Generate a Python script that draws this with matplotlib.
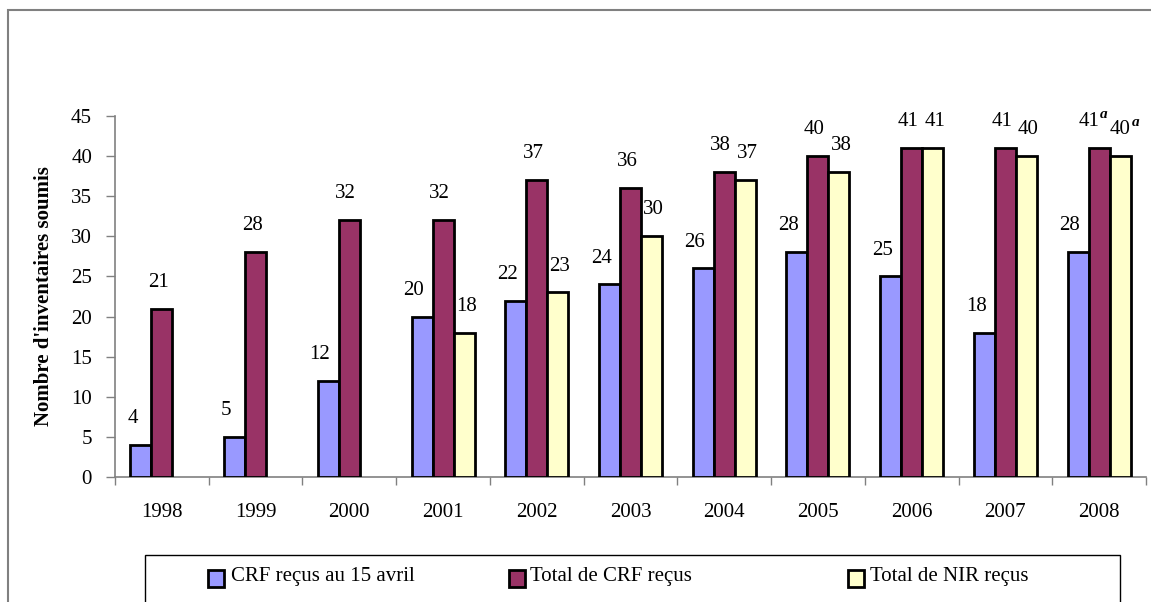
import numpy as np
import matplotlib
matplotlib.use("Agg")
import matplotlib.pyplot as plt
from matplotlib.patches import Rectangle

# ---- data ----
years = ["1998", "1999", "2000", "2001", "2002", "2003", "2004", "2005", "2006", "2007", "2008"]
crf_15_avril = [4, 5, 12, 20, 22, 24, 26, 28, 25, 18, 28]
total_crf = [21, 28, 32, 32, 37, 36, 38, 40, 41, 41, 41]
total_nir = [np.nan, np.nan, np.nan, 18, 23, 30, 37, 38, 41, 40, 40]
notes_crf = ["", "", "", "", "", "", "", "", "", "", "a"]
notes_nir = ["", "", "", "", "", "", "", "", "", "", "a"]
series_names = ["CRF reçus au 15 avril", "Total de CRF reçus", "Total de NIR reçus"]
yticks = [0, 5, 10, 15, 20, 25, 30, 35, 40, 45]
ylabel = "Nombre d'inventaires soumis"

colors = ["#9999FF", "#993366", "#FFFFCC"]

plt.rcParams['font.family'] = ['Liberation Serif', 'DejaVu Serif']

W, H = 1151, 602
fig = plt.figure(figsize=(W / 100, H / 100), dpi=100)
ax = fig.add_axes([115 / W, 1 - 477 / H, (1146 - 115) / W, (477 - 116) / H])

x = np.arange(len(years))
bw = 0.224
series = [crf_15_avril, total_crf, total_nir]
for k, (vals, col) in enumerate(zip(series, colors)):
    ax.bar(x + (k - 1) * bw, vals, width=bw, color=col, edgecolor="black",
           linewidth=2.0, zorder=3)

ax.set_xlim(-0.5, len(years) - 0.5)
ax.set_ylim(0, 45)
ax.set_yticks(yticks)
ax.set_xticks(np.arange(len(years) + 1) - 0.5, minor=False)
ax.set_xticklabels([])
ax.set_xticks(x, minor=True)
ax.set_xticklabels(years, minor=True)
ax.tick_params(axis="x", which="minor", length=0, pad=19, labelsize=15)
ax.tick_params(axis="x", which="major", length=6, width=1, color="#808080", direction="out")
ax.tick_params(axis="y", length=6.5, width=1, color="#808080", direction="out", pad=10, labelsize=15)
for s in ["top", "right"]:
    ax.spines[s].set_visible(False)
for s in ["left", "bottom"]:
    ax.spines[s].set_color("#808080")
    ax.spines[s].set_linewidth(1.2)
ax.set_ylabel(ylabel, fontsize=15, fontweight="bold", labelpad=12)

# data labels
dx_pt = [-6.0, -2.5, 1.5]
dy_pt = 19.0
for k, vals in enumerate(series):
    for i, v in enumerate(vals):
        if np.isnan(v):
            continue
        dx = dx_pt[k]
        if i == len(years) - 1 and k == 1:
            dx = -7.5
        if i == len(years) - 1 and k == 2:
            dx = 0.0
        ax.annotate(f"{int(v)}", (x[i] + (k - 1) * bw, v), xytext=(dx, dy_pt),
                    textcoords="offset points", ha="center", va="center",
                    fontsize=15, zorder=5)
        note = ""
        if k == 1:
            note = notes_crf[i]
        elif k == 2:
            note = notes_nir[i]
        if note:
            ax.annotate(note, (x[i] + (k - 1) * bw, v), xytext=(dx + 11.0, dy_pt + 5),
                        textcoords="offset points", ha="center", va="center",
                        fontsize=11, fontweight="bold", style="italic", zorder=5)

# outer frame (cut by figure edges)
fig.patches.append(Rectangle((8 / W, -0.5), 2, (1 - 10 / H) + 0.5, transform=fig.transFigure,
                             fill=False, edgecolor="#808080", linewidth=1.5))

# legend box
lx0, lx1, ly0 = 145, 1120, 555
fig.patches.append(Rectangle((lx0 / W, -0.5), (lx1 - lx0) / W, (1 - ly0 / H) + 0.5,
                             transform=fig.transFigure, fill=False, edgecolor="black",
                             linewidth=1.0))
marker_x = [208, 509, 848]
text_x = [231, 530, 870]
for mx, tx, col, name in zip(marker_x, text_x, colors, series_names):
    fig.patches.append(Rectangle((mx / W, 1 - 587 / H), 16 / W, 17 / H, transform=fig.transFigure,
                                 facecolor=col, edgecolor="black", linewidth=2.0))
    fig.text(tx / W, 1 - 577 / H, name, ha="left", va="center", fontsize=15)

fig.savefig("out.png", dpi=100)
